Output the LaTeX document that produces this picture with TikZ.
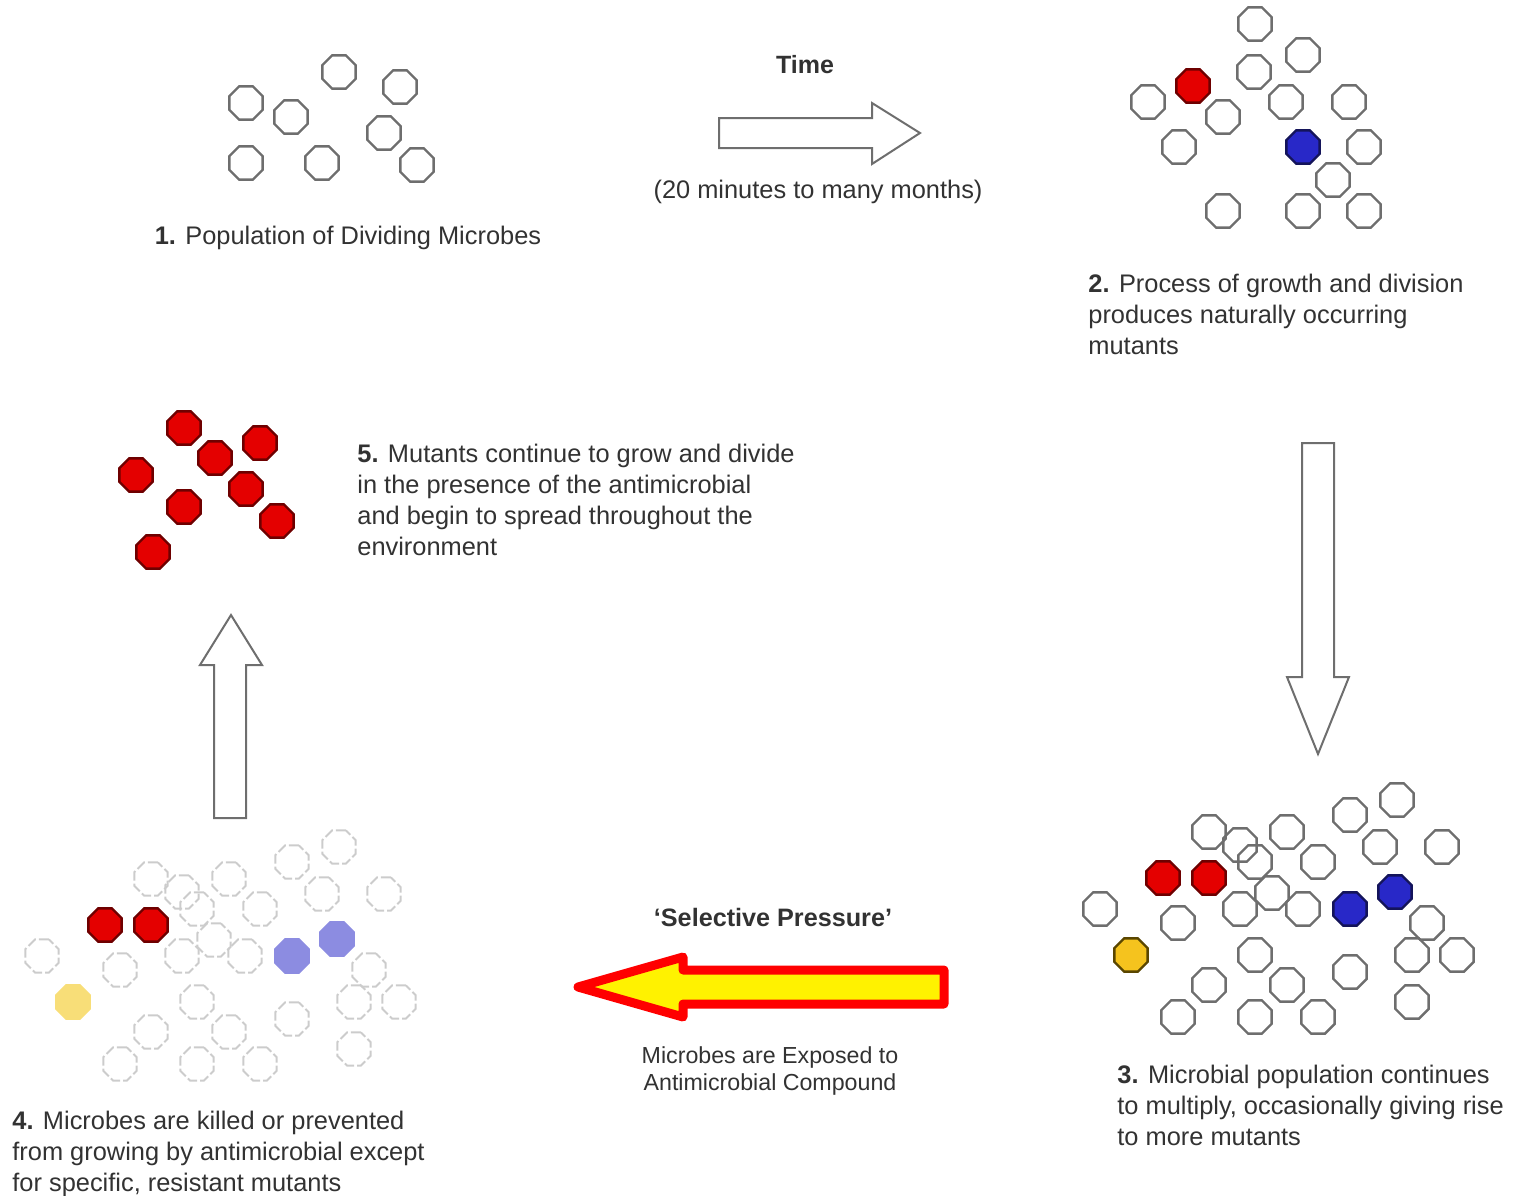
\documentclass[tikz,border=0pt]{standalone}
\usepackage{fontspec}
\setmainfont{Liberation Sans}
\usetikzlibrary{shapes.geometric,positioning}

\definecolor{cellgray}{RGB}{110,110,110}
\definecolor{mutred}{RGB}{228,0,0}
\definecolor{mutredline}{RGB}{110,0,0}
\definecolor{mutblue}{RGB}{40,40,200}
\definecolor{mutblueline}{RGB}{20,20,90}
\definecolor{mutyellow}{RGB}{245,195,30}
\definecolor{mutyellowline}{RGB}{90,70,0}
\definecolor{fadeblue}{RGB}{140,140,225}
\definecolor{fadeyellow}{RGB}{248,222,120}
\definecolor{textgray}{RGB}{50,50,50}

\tikzstyle{cell} = [regular polygon, regular polygon sides=8, minimum size=18pt, inner sep=0pt, draw=cellgray, line width=1.2pt]
\tikzstyle{redcell} = [cell, draw=mutredline, fill=mutred]
\tikzstyle{bluecell} = [cell, draw=mutblueline, fill=mutblue]
\tikzstyle{yellowcell} = [cell, draw=mutyellowline, fill=mutyellow]
\tikzstyle{deadcell} = [cell, draw=black!20, line width=1pt, dash pattern=on 5pt off 1.5pt]
\tikzstyle{fadebluecell} = [cell, draw=fadeblue, fill=fadeblue]
\tikzstyle{fadeyellowcell} = [cell, draw=fadeyellow, fill=fadeyellow]
\tikzstyle{caption} = [align=left, anchor=north west, inner sep=0pt, text=textgray, font=\fontsize{12.7}{15.5}\selectfont]
\tikzstyle{blockarrow} = [draw=cellgray, line width=1pt, fill=white, line join=miter]

\begin{document}
\begin{tikzpicture}[x=0.5pt,y=-0.5pt]
\useasboundingbox (0,0) rectangle (1520,1195);

% 1. population
\foreach \x/\y [count=\i] in {339/72,400/87,246/103,291/117,384/133,246/163,322/163,417/165}
  \node (p1-\i) [cell] at (\x,\y) {};
\node (t1) [caption, anchor=base] at (348,244) {\textbf{1.} Population of Dividing Microbes};

% time arrow
\draw [blockarrow] (719,118) -- (872,118) -- (872,103) -- (920,133) -- (872,164) -- (872,148) -- (719,148) -- cycle;
\node (time) [caption, anchor=base, font=\fontsize{12.5}{15}\selectfont\bfseries] at (805,73) {Time};
\node (dur) [caption, anchor=base] at (818,198) {(20 minutes to many months)};

% 2. growth and division
\foreach \x/\y [count=\i] in {1255/24,1303/55,1254/72,1148/102,1286/102,1349/102,1223/117,1179/147,1364/147,1333/180,1223/211,1303/211,1364/211}
  \node (p2-\i) [cell] at (\x,\y) {};
\node (p2-red) [redcell] at (1193,86) {};
\node (p2-blue) [bluecell] at (1303,147) {};
\node (t2) [caption] at (1088,274) {\textbf{2.} Process of growth and division\\produces naturally occurring\\mutants};

% down arrow
\draw [blockarrow] (1302,443) -- (1334,443) -- (1334,677) -- (1349,677) -- (1318,754) -- (1287,677) -- (1302,677) -- cycle;

% 3. more mutants
\def\popthree{1397/800,1350/815,1209/832,1287/832,1240/845,1380/847,1442/847,1255/862,1318/862,1272/893,1100/909,1240/909,1303/909,1427/923,1178/923,1255/955,1412/955,1457/955,1350/972,1209/985,1287/985,1412/1002,1178/1017,1255/1017,1318/1017}
\foreach \x/\y [count=\i] in \popthree
  \node (p3-\i) [cell] at (\x,\y) {};
\node (p3-red1) [redcell] at (1163,878) {};
\node (p3-red2) [redcell] at (1209,878) {};
\node (p3-blue1) [bluecell] at (1350,909) {};
\node (p3-blue2) [bluecell] at (1395,892) {};
\node (p3-yellow) [yellowcell] at (1131,955) {};
\node (t3) [caption] at (1117,1065) {\textbf{3.} Microbial population continues\\to multiply, occasionally giving rise\\to more mutants};

% selective pressure arrow
\draw [line width=4.5pt, draw=red, fill=yellow, line join=round] (944,970) -- (683,970) -- (683,957) -- (578,987) -- (683,1017) -- (683,1004) -- (944,1004) -- cycle;
\node (sel) [caption, anchor=base, font=\fontsize{12.6}{15}\selectfont\bfseries] at (773,926) {`Selective Pressure'};
\node (expo) [caption, anchor=north, align=center, font=\fontsize{11.6}{13.5}\selectfont] at (770,1046) {Microbes are Exposed to\\Antimicrobial Compound};

% 4. killed except resistant mutants
\begin{scope}[shift={(-1058,47)}]
\foreach \x/\y [count=\i] in \popthree
  \node (p4-\i) [deadcell] at (\x,\y) {};
\node (p4-red1) [redcell] at (1163,878) {};
\node (p4-red2) [redcell] at (1209,878) {};
\node (p4-blue1) [fadebluecell] at (1350,909) {};
\node (p4-blue2) [fadebluecell] at (1395,892) {};
\node (p4-yellow) [fadeyellowcell] at (1131,955) {};
\end{scope}
\node (t4) [caption] at (12,1111) {\textbf{4.} Microbes are killed or prevented\\from growing by antimicrobial except\\for specific, resistant mutants};

% up arrow
\draw [blockarrow] (214,818) -- (214,665) -- (200,665) -- (231,615) -- (262,665) -- (246,665) -- (246,818) -- cycle;

% 5. resistant mutants spread
\foreach \x/\y [count=\i] in {184/428,260/443,215/458,136/475,246/489,184/507,277/521,153/552}
  \node (p5-\i) [redcell] at (\x,\y) {};
\node (t5) [caption] at (357,444) {\textbf{5.} Mutants continue to grow and divide\\in the presence of the antimicrobial\\and begin to spread throughout the\\environment};
\end{tikzpicture}
\end{document}
